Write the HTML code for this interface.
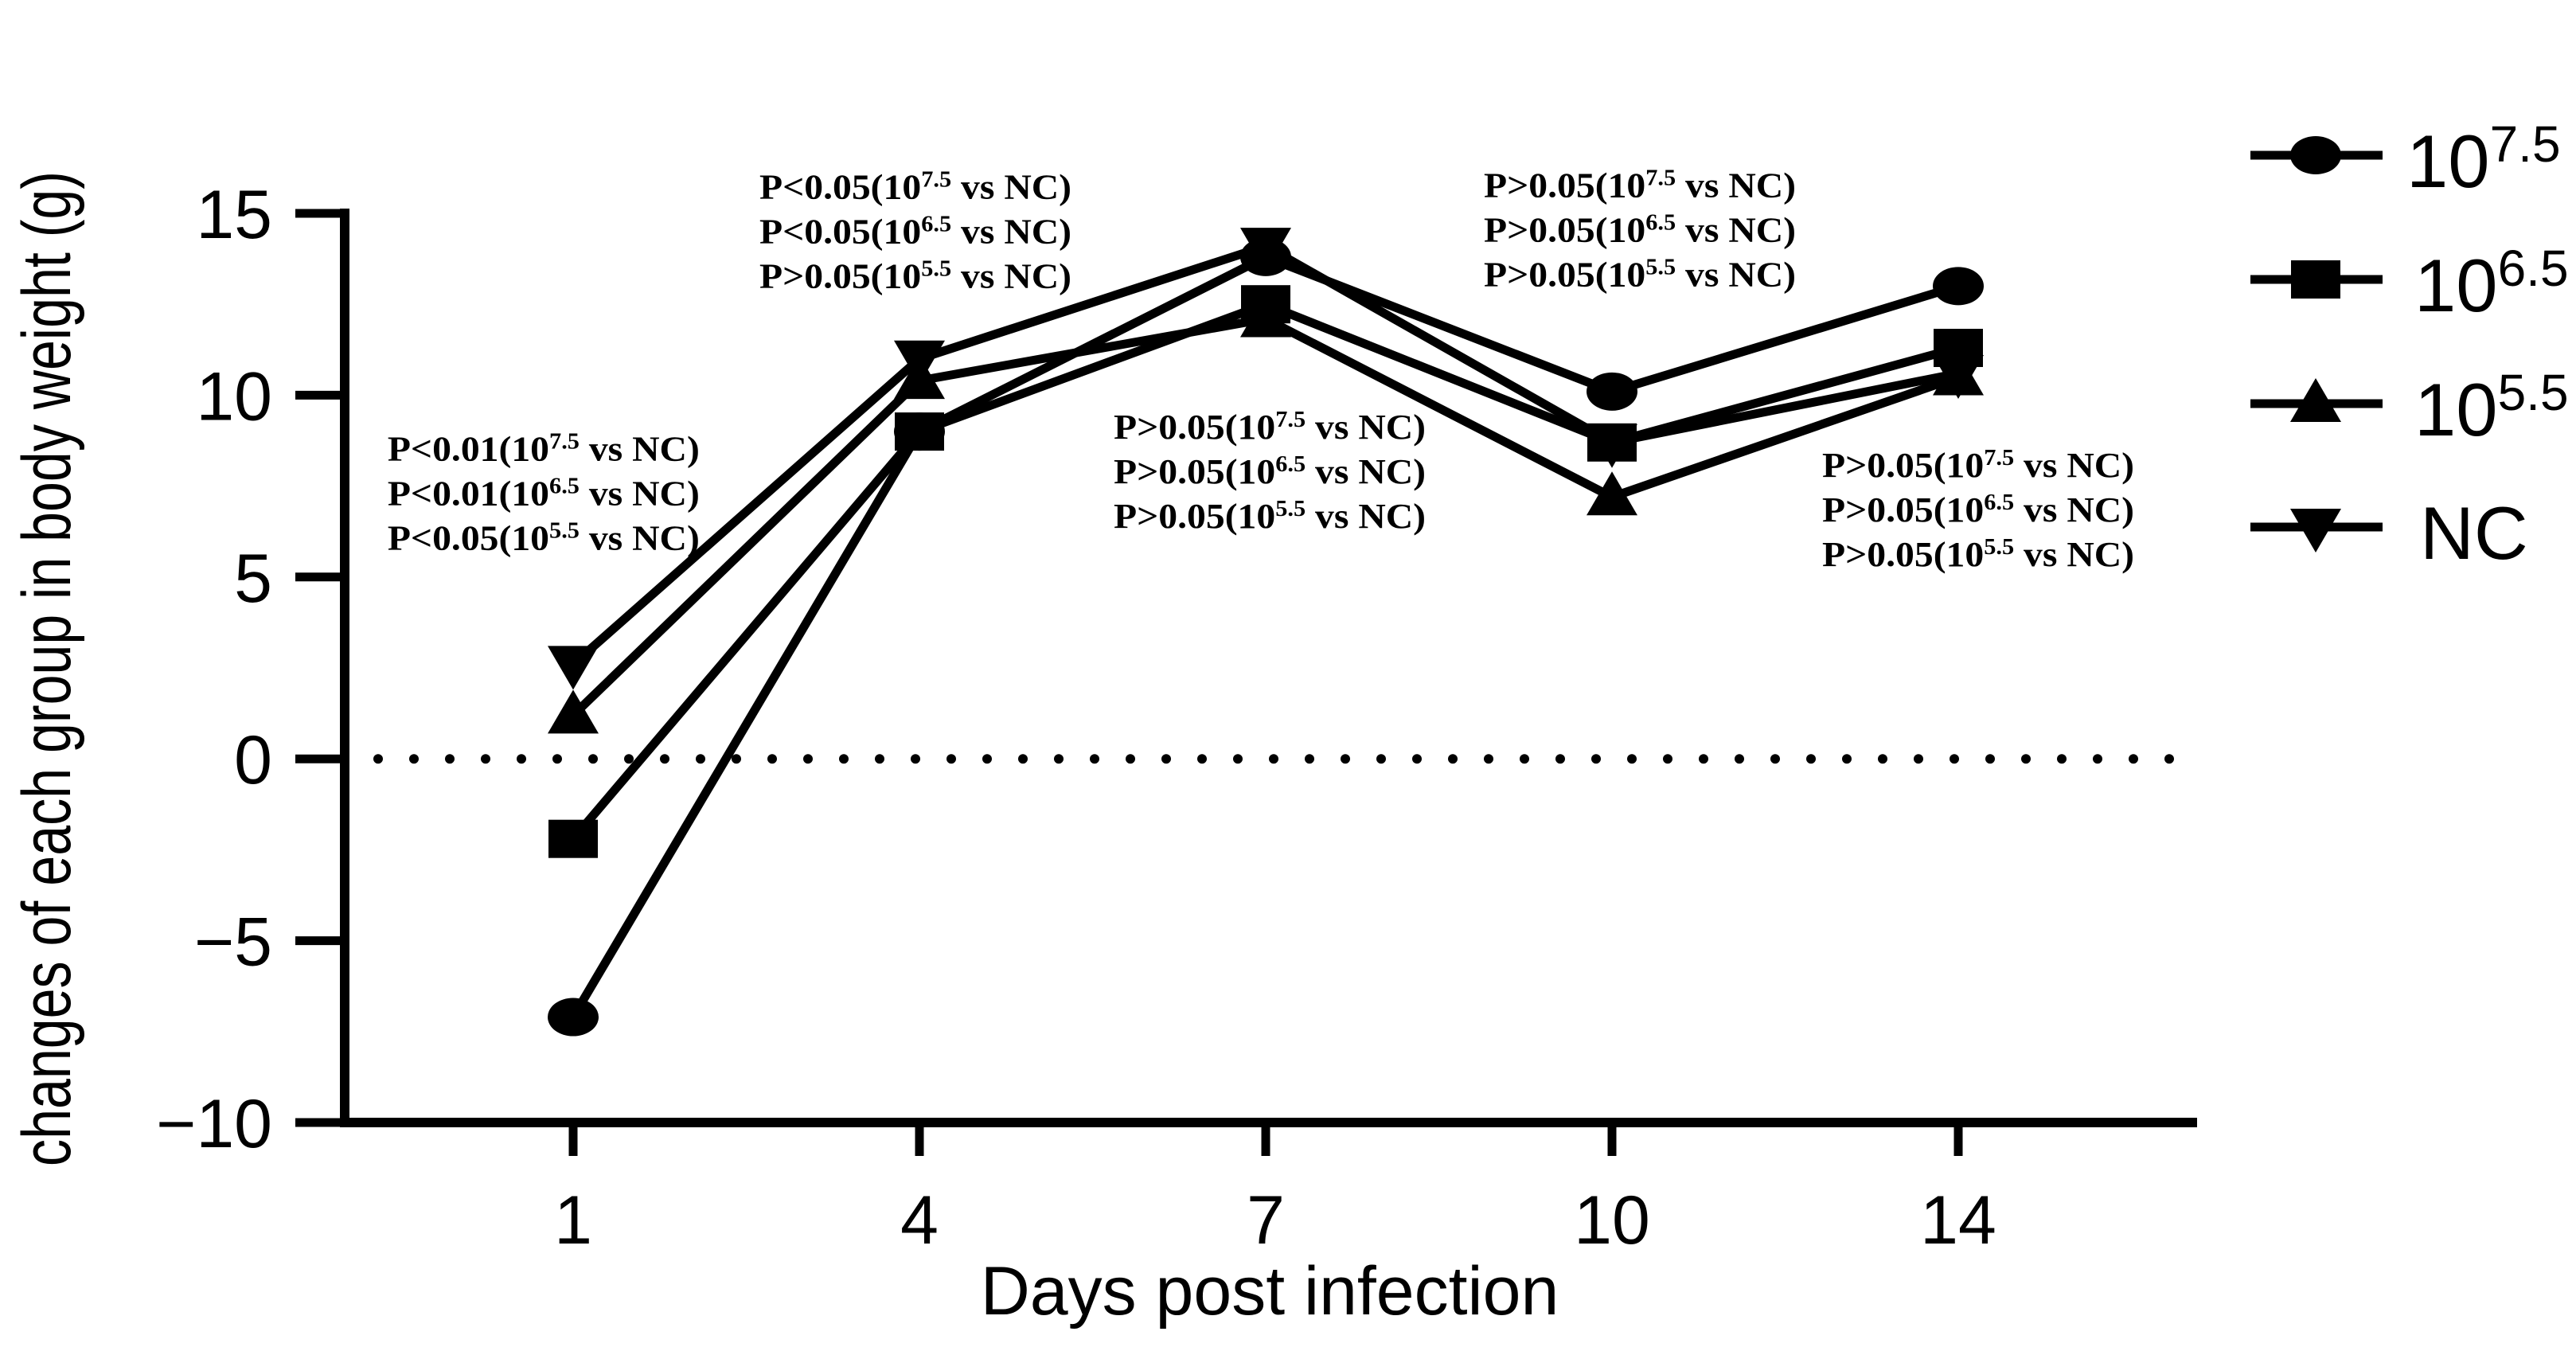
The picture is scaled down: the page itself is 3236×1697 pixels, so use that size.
<!DOCTYPE html>
<html><head><meta charset="utf-8"><style>
html,body{margin:0;padding:0;background:#fff;}
svg{display:block;}
.tick{font-family:"Liberation Sans",sans-serif;font-size:86px;fill:#000;}
.ann{font-family:"Liberation Serif",serif;font-weight:bold;font-size:44px;fill:#000;}
.leg{font-family:"Liberation Sans",sans-serif;font-size:94px;fill:#000;}
</style></head><body>
<svg id="chart" width="3236" height="1697" viewBox="0 0 3236 1697" xmlns="http://www.w3.org/2000/svg">
<g id="plot"></g>
</svg>
<script>
const categories = ["1","4","7","10","14"];
const yTicks = [15,10,5,0,-5,-10];
const s75 = [-7.1, 9.0, 13.8, 10.1, 13.0];
const s65 = [-2.2, 9.0, 12.5, 8.7, 11.3];
const s55 = [1.2, 10.4, 12.1, 7.2, 10.5];
const sNC = [2.6, 11.0, 14.1, 8.7, 10.6];
const annotations = [
  {cat:-0.536, v:8.2, lines:[["P<0.01(10","7.5"," vs NC)"],["P<0.01(10","6.5"," vs NC)"],["P<0.05(10","5.5"," vs NC)"]]},
  {cat:0.538, v:15.4, lines:[["P<0.05(10","7.5"," vs NC)"],["P<0.05(10","6.5"," vs NC)"],["P>0.05(10","5.5"," vs NC)"]]},
  {cat:1.561, v:8.8, lines:[["P>0.05(10","7.5"," vs NC)"],["P>0.05(10","6.5"," vs NC)"],["P>0.05(10","5.5"," vs NC)"]]},
  {cat:2.630, v:15.45, lines:[["P>0.05(10","7.5"," vs NC)"],["P>0.05(10","6.5"," vs NC)"],["P>0.05(10","5.5"," vs NC)"]]},
  {cat:3.607, v:7.75, lines:[["P>0.05(10","7.5"," vs NC)"],["P>0.05(10","6.5"," vs NC)"],["P>0.05(10","5.5"," vs NC)"]]}
];
const NS="http://www.w3.org/2000/svg";
const g=document.getElementById('plot');
const X0=433, XEND=2760, Y15=268, YM10=1410;
function yS(v){return Y15+(15-v)*(YM10-Y15)/25;}
function xS(i){return 720+i*435;}
function mk(tag,attrs,parent){const e=document.createElementNS(NS,tag);for(const k in attrs)e.setAttribute(k,attrs[k]);(parent||g).appendChild(e);return e;}

let zl=mk('line',{x1:X0+42,x2:XEND-20,y1:yS(0),y2:yS(0),stroke:'#000','stroke-width':12,'stroke-dasharray':'0 45','stroke-linecap':'round'});



let ya=mk('line',{x1:X0,x2:X0,y1:Y15-6,y2:YM10+6,stroke:'#000','stroke-width':12});


let xa=mk('line',{x1:X0-6,x2:XEND,y1:YM10,y2:YM10,stroke:'#000','stroke-width':12});


yTicks.forEach(t=>{
  let l=mk('line',{x1:371,x2:X0,y1:yS(t),y2:yS(t),stroke:'#000','stroke-width':11});
  
  
  let tx=mk('text',{x:342,y:yS(t)+31,'text-anchor':'end',class:'tick'});
  tx.textContent=(t<0?'\u2212'+(-t):String(t));
  
  
});
categories.forEach((c,i)=>{
  let l=mk('line',{x1:xS(i),x2:xS(i),y1:YM10,y2:YM10+42,stroke:'#000','stroke-width':11});
  
  
  let tx=mk('text',{x:xS(i),y:1562,'text-anchor':'middle',class:'tick'});
  tx.textContent=c;
  
  
});
let xt=mk('text',{x:1595,y:1651,'text-anchor':'middle',class:'tick','font-size':84});
xt.textContent='Days post infection';


let yt=mk('text',{x:0,y:0,'text-anchor':'middle',class:'tick','font-size':60,textLength:1250,lengthAdjust:'spacingAndGlyphs',transform:'translate(88,840) rotate(-90)'});
yt.textContent='changes of each group in body weight (g)';



function marker(type,x,y,parent){
  let e;
  if(type==='circle') e=mk('ellipse',{cx:x,cy:y,rx:32,ry:24,fill:'#000'},parent);
  else if(type==='square') e=mk('rect',{x:x-31,y:y-24,width:62,height:48,fill:'#000'},parent);
  else if(type==='up') e=mk('polygon',{points:`${x},${y-32} ${x+32},${y+23} ${x-32},${y+23}`,fill:'#000'},parent);
  else e=mk('polygon',{points:`${x},${y+32} ${x+32},${y-23} ${x-32},${y-23}`,fill:'#000'},parent);
  return e;
}
const series=[{d:s75,m:'circle',n:'series-10-7.5'},{d:s65,m:'square',n:'series-10-6.5'},{d:s55,m:'up',n:'series-10-5.5'},{d:sNC,m:'down',n:'series-nc'}];
series.forEach(s=>{
  let sg=mk('g',{});
  
  
  let p=mk('polyline',{points:s.d.map((v,i)=>xS(i)+','+yS(v)).join(' '),fill:'none',stroke:'#000','stroke-width':11,'stroke-linejoin':'miter'},sg);
  
  
  s.d.forEach((v,i)=>{
    let m=marker(s.m,xS(i),yS(v),sg);
    
    
  });
});

annotations.forEach(a=>{
  let ag=mk('g',{});
  
  
  a.lines.forEach((ln,k)=>{
    let t=mk('text',{x:xS(a.cat),y:yS(a.v)+k*56,class:'ann',textLength:392,lengthAdjust:'spacingAndGlyphs'},ag);
    let t1=mk('tspan',{},t);t1.textContent=ln[0];
    let t2=mk('tspan',{'font-size':28,dy:-15},t);t2.textContent=ln[1];
    let t3=mk('tspan',{dy:15},t);t3.textContent=ln[2];
    
    
  });
});

const legY=[195,351,507,662];
const legLabels=[["10","7.5"],["10","6.5"],["10","5.5"],["NC",""]];
const legM=['circle','square','up','down'];
const legTx=[3023,3033,3033,3040];
legY.forEach((y,i)=>{
  let lg=mk('g',{});
  
  
  mk('line',{x1:2827,x2:2993,y1:y,y2:y,stroke:'#000','stroke-width':11},lg);
  marker(legM[i],2909,y,lg);
  let t=mk('text',{x:legTx[i],y:y+40,class:'leg'},lg);
  let a=mk('tspan',{},t);a.textContent=legLabels[i][0];
  if(legLabels[i][1]){let b=mk('tspan',{'font-size':64,dy:-32},t);b.textContent=legLabels[i][1];}
});
</script>
</body></html>
